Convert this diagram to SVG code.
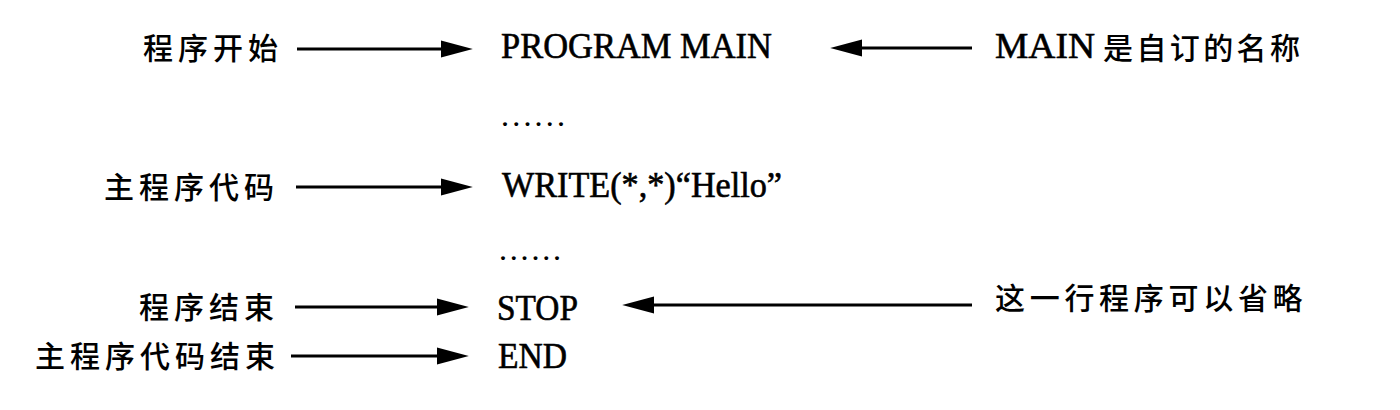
<svg xmlns="http://www.w3.org/2000/svg" width="1400" height="410" viewBox="0 0 1400 410">
<style>
.cn{font-family:"Noto Sans CJK SC","Noto Sans",sans-serif;font-size:30px;font-weight:500;fill:#000;letter-spacing:5px}
.en{font-family:"Liberation Serif","Times New Roman",serif;font-size:35px;fill:#000;stroke:#000;stroke-width:0.6}
.dots{font-family:"Liberation Serif",serif;font-size:24px;font-weight:bold;fill:#000}
.ln{stroke:#000;stroke-width:3;fill:none;marker-end:url(#ah)}
</style>
<defs>
<marker id="ah" markerUnits="userSpaceOnUse" markerWidth="32" markerHeight="18" refX="18" refY="8" orient="auto" viewBox="0 0 30 16">
<path d="M0,0 L30,8 L0,16 Z" fill="#000"/>
</marker>
</defs>
<rect width="1400" height="410" fill="#fff"/>
<g id="label-start"><text class="cn" x="143" y="59">程序开始</text></g>
<g id="label-main-code"><text class="cn" x="104" y="198">主程序代码</text></g>
<g id="label-stop"><text class="cn" x="139" y="318">程序结束</text></g>
<g id="label-end"><text class="cn" x="35" y="367">主程序代码结束</text></g>
<g id="code-program"><text class="en" x="501" y="58" textLength="271" lengthAdjust="spacingAndGlyphs">PROGRAM MAIN</text></g>
<g id="code-dots1"><text class="dots" x="502" y="126" textLength="62" lengthAdjust="spacing">......</text></g>
<g id="code-write"><text class="en" x="502" y="197" textLength="280" lengthAdjust="spacingAndGlyphs">WRITE(*,*)“Hello”</text></g>
<g id="code-dots2"><text class="dots" x="500" y="260" textLength="60" lengthAdjust="spacing">......</text></g>
<g id="code-stop"><text class="en" x="497" y="320" textLength="81" lengthAdjust="spacingAndGlyphs">STOP</text></g>
<g id="code-end"><text class="en" x="498" y="368" textLength="69" lengthAdjust="spacingAndGlyphs">END</text></g>
<g id="note-main"><text class="en" x="995" y="58" textLength="100" lengthAdjust="spacingAndGlyphs">MAIN</text><text class="cn" x="1103" y="59" style="letter-spacing:3.4px">是自订的名称</text></g>
<g id="note-stop"><text class="cn" x="995" y="309" style="letter-spacing:4.7px">这一行程序可以省略</text></g>
<g id="connectors">
<line class="ln" x1="297" y1="49" x2="460" y2="49"/>
<line class="ln" x1="296" y1="187" x2="460" y2="187"/>
<line class="ln" x1="295" y1="307" x2="456" y2="307"/>
<line class="ln" x1="291" y1="356" x2="456" y2="356"/>
<line class="ln" x1="972" y1="48" x2="843" y2="48"/>
<line class="ln" x1="972" y1="305" x2="635" y2="305"/>
</g>
</svg>
